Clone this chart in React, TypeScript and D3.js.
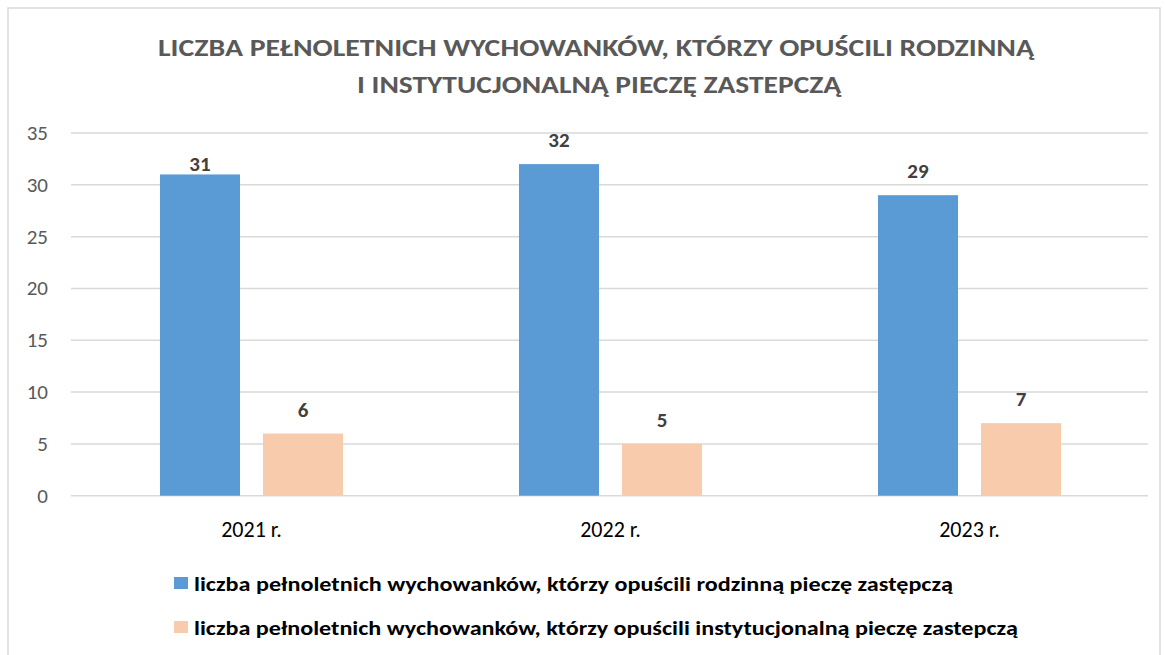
import React from 'react';
import * as d3 from 'd3';

// data
const years = ['2021 r.', '2022 r.', '2023 r.'];
const seriesNames = [
  'liczba pełnoletnich wychowanków, którzy opuścili rodzinną pieczę zastępczą',
  'liczba pełnoletnich wychowanków, którzy opuścili instytucjonalną pieczę zastepczą',
];
const rodzinna = [31, 32, 29];
const instytucjonalna = [6, 5, 7];
const yTicks = [0, 5, 10, 15, 20, 25, 30, 35];
const titleLines = [
  'LICZBA PEŁNOLETNICH WYCHOWANKÓW, KTÓRZY OPUŚCILI RODZINNĄ',
  'I INSTYTUCJONALNĄ PIECZĘ ZASTEPCZĄ',
];

const colors = ['#5B9BD5', '#F8CBAD'];
const font = "Carlito, Calibri, Lato, 'Noto Sans', sans-serif";

const W = 1165;
const H = 655;

const App = () => {
  const x0 = d3.scaleBand<string>().domain(years).range([72, 1149]);
  const x1 = d3
    .scaleBand<number>()
    .domain([0, 1])
    .range([0, x0.bandwidth()])
    .paddingInner(0.2233)
    .paddingOuter(0.854);
  const y = d3.scaleLinear().domain([0, 35]).range([495.7, 133]);

  const series = [rodzinna, instytucjonalna];
  // the first label sits right on its bar in the original
  const labelGap = (s: number, i: number) => (s === 0 && i === 0 ? 3 : 17);

  return (
    <svg
      width={W}
      height={H}
      style={{ position: 'absolute', left: 0, top: 0, background: '#fff' }}
      fontFamily={font}
    >
      <rect x={8} y={8} width={1152} height={660} fill="#fff" stroke="#d9d9d9" strokeWidth={1.5} />

      {titleLines.map((t, i) => (
        <text
          key={t}
          x={i === 0 ? 158 : 357}
          y={i === 0 ? 56 : 93}
          textLength={i === 0 ? 876 : 484}
          lengthAdjust="spacingAndGlyphs"
          fontSize={25}
          fontWeight="bold"
          fill="#595959"
        >
          {t}
        </text>
      ))}

      {yTicks.map((t) => (
        <g key={t}>
          <line x1={71} x2={1148} y1={y(t)} y2={y(t)} stroke="#d9d9d9" strokeWidth={1.5} />
          <text x={48} y={y(t) + 7} textAnchor="end" fontSize={21} fill="#595959">
            {t}
          </text>
        </g>
      ))}

      {series.map((vals, s) =>
        vals.map((v, i) => {
          const bx = (x0(years[i]) ?? 0) + (x1(s) ?? 0);
          return (
            <g key={`${s}-${i}`}>
              <rect x={bx} y={y(v)} width={x1.bandwidth()} height={y(0) - y(v)} fill={colors[s]} />
              <text
                x={bx + x1.bandwidth() / 2}
                y={y(v) - labelGap(s, i)}
                textAnchor="middle"
                fontSize={21}
                fontWeight="bold"
                fill="#404040"
              >
                {v}
              </text>
            </g>
          );
        })
      )}

      {years.map((yr) => (
        <text
          key={yr}
          x={(x0(yr) ?? 0) + x0.bandwidth() / 2}
          y={537}
          textAnchor="middle"
          fontSize={22}
          fill="#000"
        >
          {yr}
        </text>
      ))}

      {seriesNames.map((n, i) => (
        <g key={n}>
          <rect x={174} y={577 + i * 44} width={14} height={12} fill={colors[i]} />
          <text
            x={194}
            y={591 + i * 44}
            textLength={i === 0 ? 759 : 824}
            lengthAdjust="spacingAndGlyphs"
            fontSize={21}
            fontWeight="bold"
            fill="#000"
          >
            {n}
          </text>
        </g>
      ))}
    </svg>
  );
};

export default App;
